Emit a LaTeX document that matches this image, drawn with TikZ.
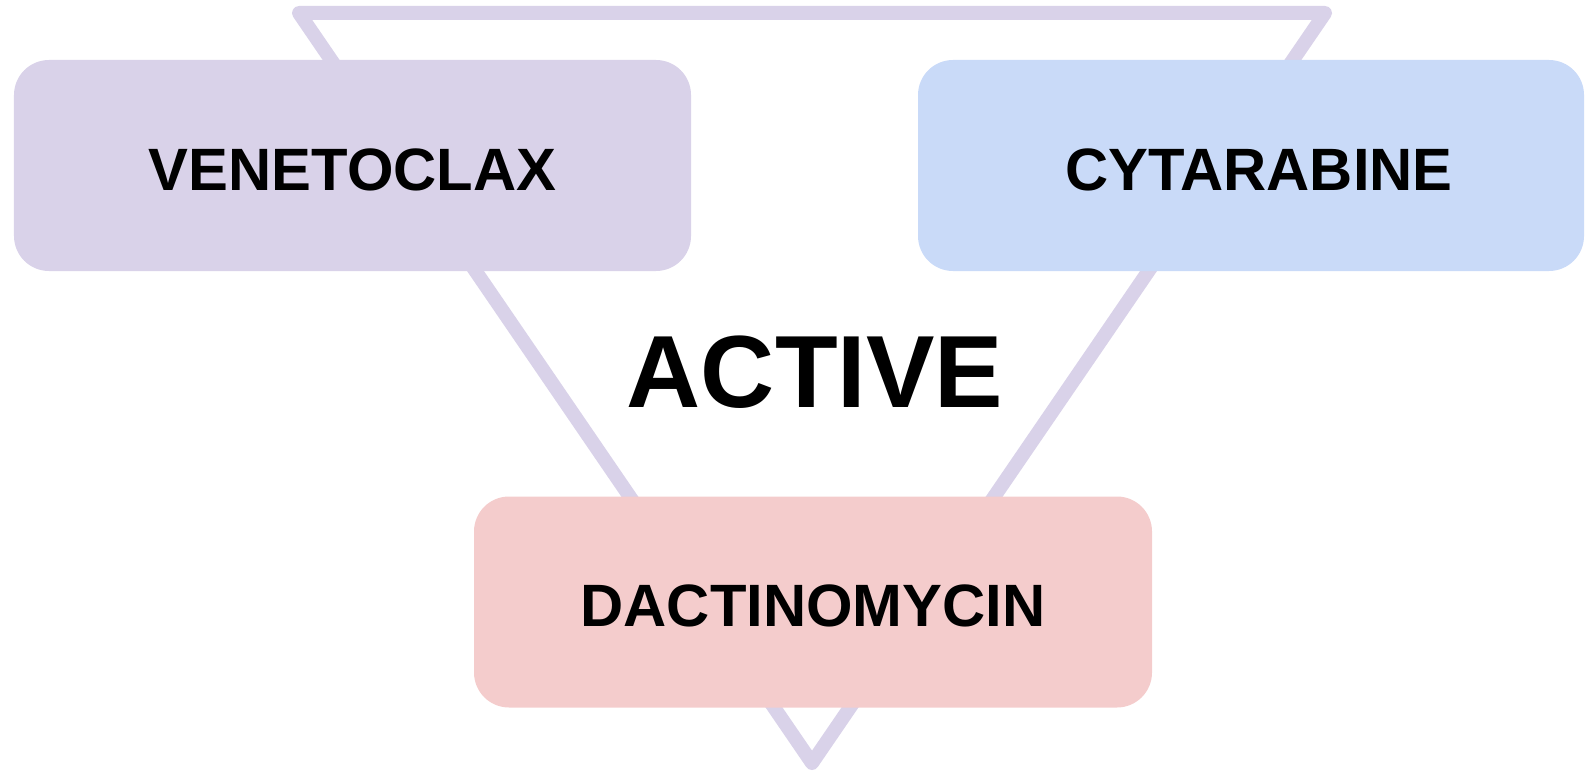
\documentclass[tikz,border=0pt]{standalone}
\usepackage{fontspec}
\setmainfont{Liberation Sans}
\usetikzlibrary{positioning}
\definecolor{lavender}{HTML}{D9D2E9}
\definecolor{paleblue}{HTML}{C9DAF8}
\definecolor{palerose}{HTML}{F4CCCC}
\tikzset{
  drugbox/.style={rounded corners=35bp, minimum height=211bp, inner sep=0pt,
    text height=49bp, text depth=0pt,
    font=\fontsize{60}{72}\selectfont\bfseries},
  cycle line/.style={draw=lavender, line width=14bp, line join=round, line cap=round}
}

\begin{document}
\begin{tikzpicture}[x=1bp, y=-1bp]
    \useasboundingbox (0,0) rectangle (1585,774);

    \coordinate (TL) at (299,13);
    \coordinate (TR) at (1325,13);
    \coordinate (BM) at (812,763);
    \draw [cycle line] (TL) -- (TR) -- (BM) -- cycle;

    \node (ven) [drugbox, fill=lavender, minimum width=677bp] at (352.5,165.5) {VENETOCLAX};
    \node (cyt) [drugbox, fill=paleblue, minimum width=666bp] at (1251,165.5) {\hspace*{16bp}CYTARABINE};
    \node (dac) [drugbox, fill=palerose, minimum width=678bp] at (813,602) {DACTINOMYCIN};

    \node (act) [font=\fontsize{103}{124}\selectfont\bfseries] at (815,372) {ACTIVE};
\end{tikzpicture}
\end{document}
